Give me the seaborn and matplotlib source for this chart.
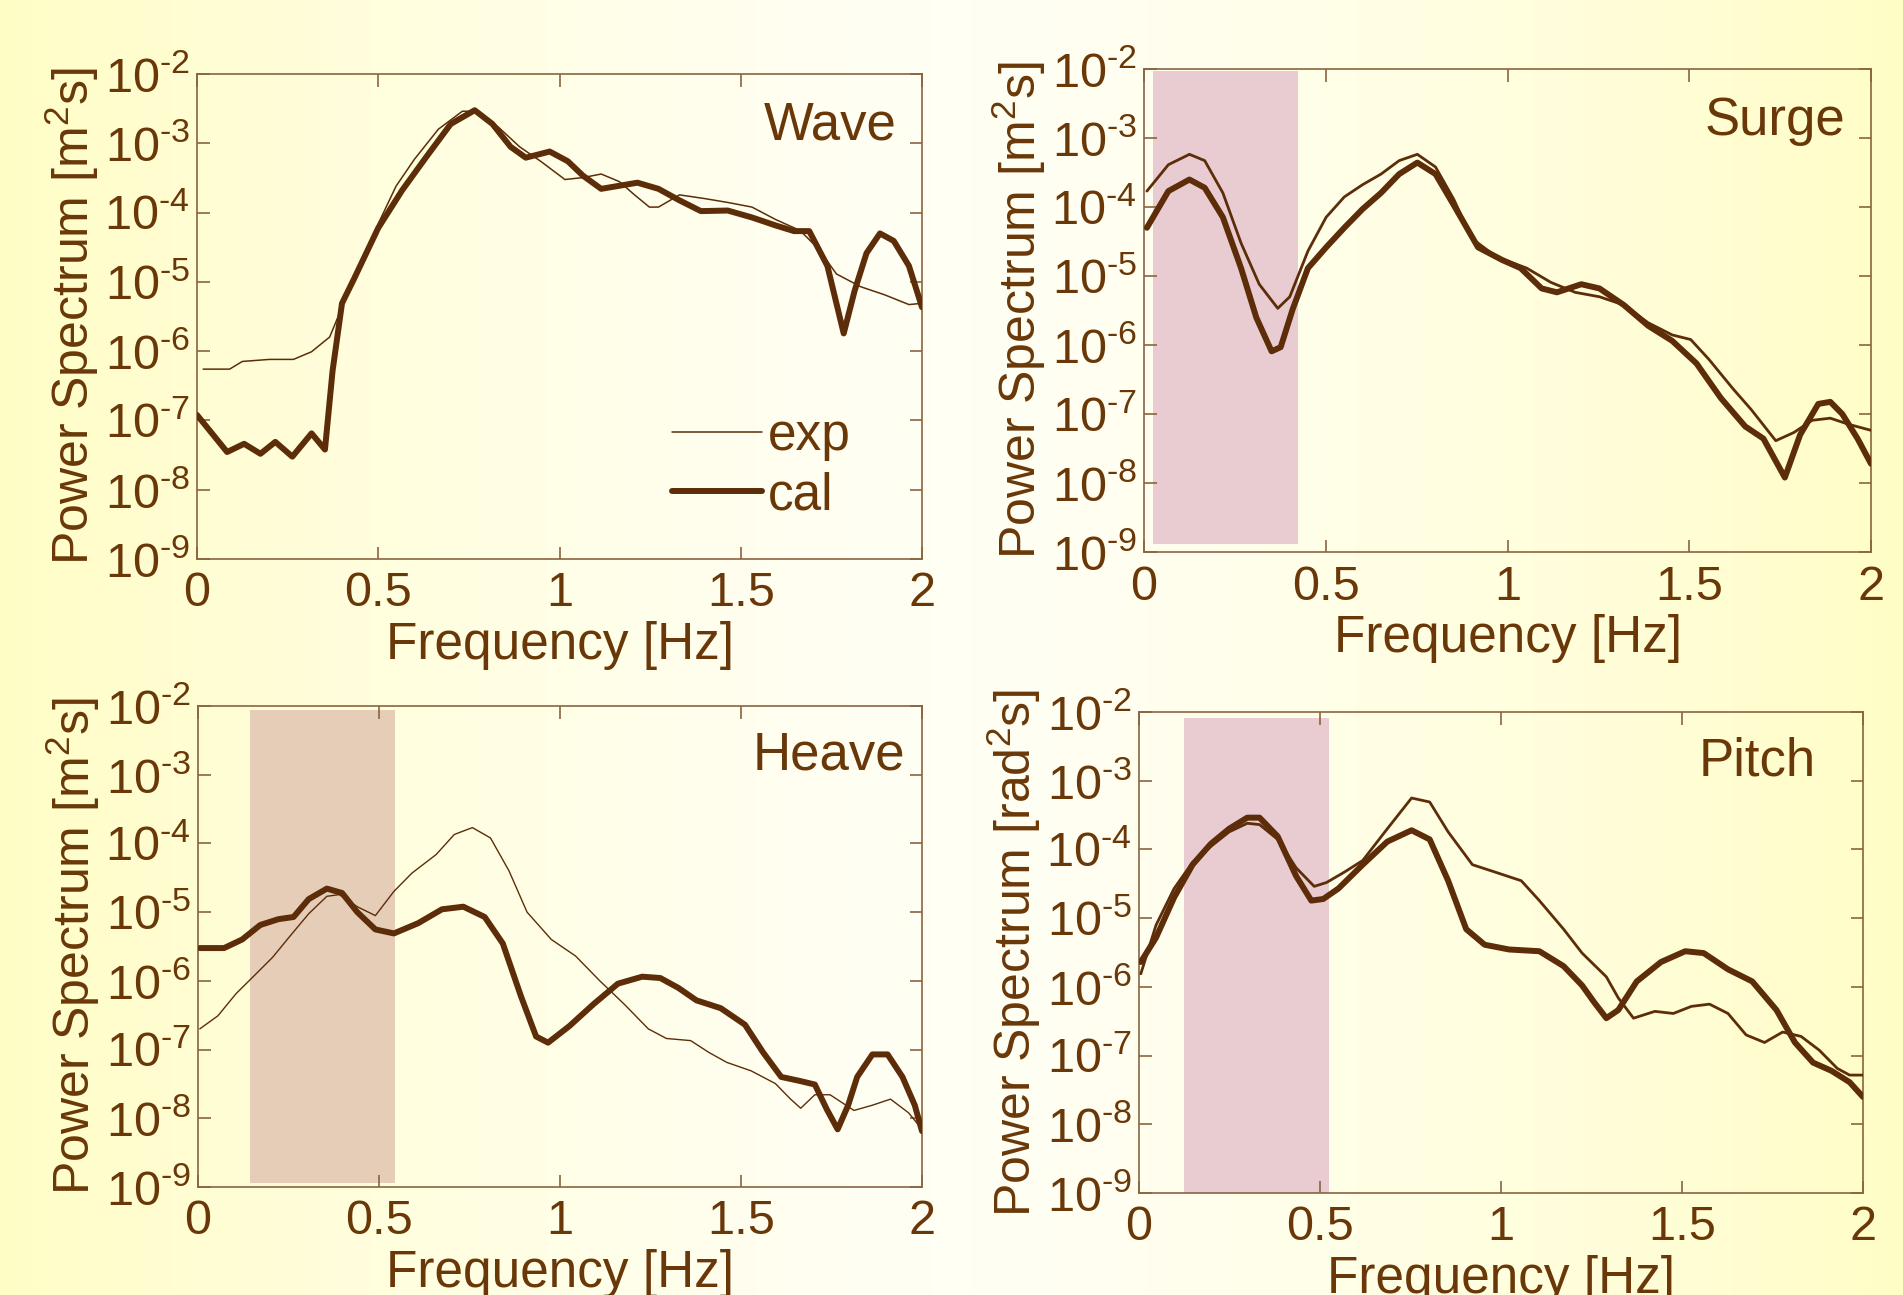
import numpy as np
import pandas as pd
import matplotlib
matplotlib.use("Agg")
import matplotlib.pyplot as plt
import seaborn as sns
from matplotlib.colors import LinearSegmentedColormap
from matplotlib.ticker import LogLocator, FixedLocator, FuncFormatter

# ---------------- data ----------------
wave_cal_f = [0.0, 0.083, 0.13, 0.175, 0.216, 0.263, 0.316, 0.353, 0.374, 0.40, 0.433, 0.5, 0.566, 0.632, 0.7, 0.766,
              0.815, 0.865, 0.907, 0.973, 1.023, 1.065, 1.115, 1.215, 1.273, 1.331, 1.39, 1.464, 1.531, 1.597, 1.647,
              1.689, 1.739, 1.784, 1.814, 1.847, 1.884, 1.922, 1.964, 2.0]
wave_cal_p = [1.2e-7, 3.5e-8, 4.6e-8, 3.3e-8, 4.9e-8, 3.0e-8, 6.5e-8, 3.8e-8, 5.2e-7, 4.9e-6, 1.1e-5, 6.0e-5, 2.1e-4,
              6.3e-4, 1.9e-3, 3.0e-3, 1.9e-3, 8.9e-4, 6.2e-4, 7.6e-4, 5.5e-4, 3.4e-4, 2.2e-4, 2.7e-4, 2.2e-4, 1.5e-4,
              1.05e-4, 1.07e-4, 8.5e-5, 6.5e-5, 5.4e-5, 5.4e-5, 1.7e-5, 1.8e-6, 7.4e-6, 2.6e-5, 5.0e-5, 3.9e-5,
              1.7e-5, 4.3e-6]
wave_exp_f = [0.017, 0.09, 0.125, 0.2, 0.266, 0.316, 0.366, 0.4, 0.433, 0.5, 0.549, 0.6, 0.666, 0.732, 0.774, 0.832,
              0.89, 0.948, 1.015, 1.065, 1.115, 1.165, 1.207, 1.248, 1.273, 1.331, 1.398, 1.464, 1.531, 1.597, 1.664,
              1.714, 1.764, 1.831, 1.897, 1.964, 2.0]
wave_exp_p = [5.5e-7, 5.5e-7, 7.1e-7, 7.6e-7, 7.6e-7, 9.8e-7, 1.6e-6, 4.3e-6, 1.1e-5, 6.9e-5, 2.4e-4, 5.9e-4, 1.6e-3,
              2.9e-3, 2.9e-3, 1.7e-3, 8.9e-4, 5.5e-4, 3.0e-4, 3.2e-4, 3.6e-4, 2.8e-4, 1.8e-4, 1.2e-4, 1.2e-4, 1.8e-4,
              1.6e-4, 1.4e-4, 1.2e-4, 7.9e-5, 5.5e-5, 3.0e-5, 1.3e-5, 8.5e-6, 6.5e-6, 4.7e-6, 4.9e-6]

surge_exp_f = [0.008, 0.067, 0.125, 0.167, 0.217, 0.267, 0.317, 0.368, 0.401, 0.451, 0.501, 0.551, 0.601, 0.652, 0.702,
               0.752, 0.802, 0.852, 0.902, 0.969, 1.053, 1.119, 1.186, 1.253, 1.32, 1.387, 1.453, 1.504, 1.554, 1.621,
               1.671, 1.738, 1.788, 1.838, 1.888, 1.938, 2.0]
surge_exp_p = [1.7e-4, 4.1e-4, 5.8e-4, 4.7e-4, 1.6e-4, 3.0e-5, 7.6e-6, 3.4e-6, 5.0e-6, 2.3e-5, 7.1e-5, 1.4e-4, 2.1e-4,
               3.0e-4, 4.7e-4, 5.8e-4, 3.8e-4, 1.3e-4, 3.5e-5, 1.9e-5, 1.3e-5, 8.1e-6, 5.8e-6, 5.0e-6, 3.8e-6, 2.1e-6,
               1.4e-6, 1.2e-6, 6.2e-7, 2.3e-7, 1.15e-7, 4.1e-8, 5.4e-8, 8.1e-8, 8.7e-8, 7.1e-8, 5.8e-8]
surge_cal_f = [0.008, 0.067, 0.125, 0.167, 0.217, 0.267, 0.309, 0.351, 0.376, 0.409, 0.451, 0.501, 0.551, 0.601, 0.652,
               0.702, 0.752, 0.802, 0.852, 0.919, 0.986, 1.036, 1.094, 1.136, 1.203, 1.253, 1.32, 1.387, 1.453, 1.52,
               1.587, 1.654, 1.704, 1.763, 1.805, 1.855, 1.888, 1.921, 1.963, 2.0]
surge_cal_p = [5.0e-5, 1.7e-4, 2.5e-4, 1.9e-4, 7.1e-5, 1.3e-5, 2.5e-6, 8.1e-7, 9.3e-7, 3.3e-6, 1.3e-5, 2.6e-5, 5.0e-5,
               9.3e-5, 1.6e-4, 3.0e-4, 4.4e-4, 3.0e-4, 1.07e-4, 2.6e-5, 1.7e-5, 1.3e-5, 6.6e-6, 5.8e-6, 7.6e-6, 6.6e-6,
               3.8e-6, 1.9e-6, 1.15e-6, 5.4e-7, 1.7e-7, 6.6e-8, 4.4e-8, 1.2e-8, 5.0e-8, 1.4e-7, 1.5e-7, 1.0e-7, 4.4e-8,
               1.9e-8]

heave_cal_f = [0.005, 0.072, 0.122, 0.172, 0.222, 0.264, 0.306, 0.356, 0.398, 0.44, 0.49, 0.541, 0.608, 0.674, 0.733,
               0.792, 0.842, 0.892, 0.934, 0.967, 1.026, 1.093, 1.16, 1.227, 1.277, 1.327, 1.377, 1.444, 1.511, 1.561,
               1.611, 1.662, 1.704, 1.737, 1.767, 1.796, 1.821, 1.863, 1.905, 1.946, 1.98, 2.0]
heave_cal_p = [3.0e-6, 3.0e-6, 4.0e-6, 6.5e-6, 7.9e-6, 8.5e-6, 1.55e-5, 2.2e-5, 1.9e-5, 1.0e-5, 5.6e-6, 4.9e-6, 6.9e-6,
               1.1e-5, 1.2e-5, 8.5e-6, 3.5e-6, 6.0e-7, 1.55e-7, 1.26e-7, 2.2e-7, 4.6e-7, 9.1e-7, 1.15e-6, 1.1e-6, 7.9e-7,
               5.2e-7, 4.0e-7, 2.3e-7, 9.1e-8, 4.0e-8, 3.5e-8, 3.1e-8, 1.35e-8, 6.9e-9, 1.55e-8, 4.0e-8, 8.5e-8, 8.5e-8,
               4.0e-8, 1.55e-8, 6.5e-9]
heave_exp_f = [0.005, 0.055, 0.105, 0.156, 0.206, 0.256, 0.306, 0.356, 0.39, 0.44, 0.49, 0.541, 0.591, 0.658, 0.708,
               0.758, 0.808, 0.859, 0.909, 0.976, 1.043, 1.11, 1.177, 1.244, 1.294, 1.361, 1.411, 1.461, 1.528, 1.595,
               1.637, 1.665, 1.704, 1.746, 1.812, 1.863, 1.913, 1.963, 2.0]
heave_exp_p = [2.0e-7, 3.1e-7, 6.5e-7, 1.2e-6, 2.2e-6, 4.6e-6, 9.5e-6, 1.7e-5, 1.8e-5, 1.2e-5, 8.9e-6, 2.0e-5, 3.7e-5,
               6.9e-5, 1.35e-4, 1.7e-4, 1.2e-4, 4.0e-5, 1.0e-5, 4.0e-6, 2.3e-6, 1.0e-6, 4.6e-7, 2.0e-7, 1.45e-7, 1.35e-7,
               9.1e-8, 6.5e-8, 4.9e-8, 3.2e-8, 1.9e-8, 1.4e-8, 2.2e-8, 2.2e-8, 1.3e-8, 1.55e-8, 1.9e-8, 1.2e-8, 6.9e-9]

pitch_cal_f = [0.005, 0.047, 0.097, 0.148, 0.198, 0.249, 0.299, 0.333, 0.383, 0.434, 0.476, 0.509, 0.551, 0.618, 0.686,
               0.753, 0.803, 0.854, 0.904, 0.955, 1.022, 1.106, 1.173, 1.224, 1.257, 1.291, 1.324, 1.375, 1.442, 1.509,
               1.56, 1.627, 1.694, 1.761, 1.812, 1.862, 1.913, 1.963, 2.0]
pitch_cal_p = [2.3e-6, 5.2e-6, 2.0e-5, 6.0e-5, 1.2e-4, 2.0e-4, 2.9e-4, 2.9e-4, 1.55e-4, 4.1e-5, 1.8e-5, 1.9e-5, 2.7e-5,
               6.0e-5, 1.3e-4, 1.9e-4, 1.4e-4, 3.5e-5, 6.9e-6, 4.1e-6, 3.5e-6, 3.3e-6, 2.0e-6, 1.05e-6, 6.0e-7, 3.5e-7,
               4.6e-7, 1.2e-6, 2.3e-6, 3.3e-6, 3.1e-6, 1.8e-6, 1.2e-6, 4.6e-7, 1.55e-7, 7.9e-8, 6.0e-8, 4.1e-8, 2.5e-8]
pitch_exp_f = [0.005, 0.047, 0.097, 0.148, 0.198, 0.249, 0.299, 0.333, 0.383, 0.434, 0.484, 0.518, 0.568, 0.618, 0.686,
               0.753, 0.803, 0.854, 0.921, 0.988, 1.056, 1.106, 1.173, 1.224, 1.291, 1.324, 1.366, 1.425, 1.476, 1.526,
               1.576, 1.627, 1.677, 1.728, 1.778, 1.829, 1.879, 1.929, 1.963, 2.0]
pitch_exp_p = [1.55e-6, 7.9e-6, 2.7e-5, 6.5e-5, 1.1e-4, 1.8e-4, 2.4e-4, 2.3e-4, 1.4e-4, 5.4e-5, 2.9e-5, 3.3e-5, 4.7e-5,
               6.9e-5, 2.0e-4, 5.6e-4, 4.9e-4, 1.8e-4, 6.0e-5, 4.6e-5, 3.5e-5, 1.8e-5, 6.9e-6, 3.1e-6, 1.4e-6, 6.9e-7,
               3.5e-7, 4.4e-7, 4.1e-7, 5.2e-7, 5.6e-7, 4.1e-7, 2.0e-7, 1.55e-7, 2.2e-7, 1.9e-7, 1.2e-7, 6.5e-8, 5.2e-8,
               5.2e-8]

panel_names = ["Wave", "Surge", "Heave", "Pitch"]
ylabels = ["Power Spectrum [m$^2$s]", "Power Spectrum [m$^2$s]",
           "Power Spectrum [m$^2$s]", "Power Spectrum [rad$^2$s]"]
xlabel = "Frequency [Hz]"
xticks = [0, 0.5, 1, 1.5, 2]
xticklabels = ["0", "0.5", "1", "1.5", "2"]
band_f = [None, (0.025, 0.423), (0.144, 0.544), (0.124, 0.524)]
band_p = [None, (1.3e-9, 9.3e-3), (1.15e-9, 8.7e-3), (1.0e-9, 8.2e-3)]
legend_labels = ["exp", "cal"]

# ---------------- style ----------------
sns.set_theme(style="ticks")
TXT = "#6A3808"
LINE = "#5C2D08"
SPINE = "#8A6440"
plt.rcParams["font.family"] = ["Liberation Sans", "DejaVu Sans"]
plt.rcParams["mathtext.fontset"] = "custom"
plt.rcParams["mathtext.rm"] = "Liberation Sans"
plt.rcParams["mathtext.it"] = "Liberation Sans"
plt.rcParams["mathtext.default"] = "regular"
plt.rcParams["axes.unicode_minus"] = False

fig = plt.figure(figsize=(19.03, 12.95), dpi=100)

# background gradient
bg = fig.add_axes([0, 0, 1, 1], zorder=-10)
xg = np.linspace(0, 1, 400)
prof = np.clip(np.abs(xg - 0.5) / 0.5, 0, 1) ** 1.4
cmap = LinearSegmentedColormap.from_list("bg", ["#FFFFF4", "#FFFDC6"])
bg.imshow(prof[None, :], aspect="auto", cmap=cmap, vmin=0, vmax=1, extent=[0, 1, 0, 1])
bg.set_axis_off()

positions = [
    [197 / 1903, 1 - 559 / 1295, 725 / 1903, 485 / 1295],
    [1144 / 1903, 1 - 552 / 1295, 727 / 1903, 483 / 1295],
    [198 / 1903, 1 - 1187 / 1295, 724 / 1903, 481 / 1295],
    [1139 / 1903, 1 - 1193 / 1295, 724 / 1903, 481 / 1295],
]
series = [
    (wave_exp_f, wave_exp_p, wave_cal_f, wave_cal_p, 1.1),
    (surge_exp_f, surge_exp_p, surge_cal_f, surge_cal_p, 2.0),
    (heave_exp_f, heave_exp_p, heave_cal_f, heave_cal_p, 1.0),
    (pitch_exp_f, pitch_exp_p, pitch_cal_f, pitch_cal_p, 2.0),
]
title_pos = [(0.965, 0.893), (0.965, 0.892), (0.977, 0.897), (0.935, 0.897)]


def pow_fmt(v, pos):
    e = int(round(np.log10(v)))
    return "$10^{\u2010%d}$" % (-e) if e < 0 else "$10^{%d}$" % e


for i in range(4):
    ax = fig.add_axes(positions[i])
    ax.set_facecolor("none")
    ef, ep, cf, cp, thin = series[i]
    if band_f[i] is not None:
        ax.fill_between(list(band_f[i]), band_p[i][0], band_p[i][1],
                        color="#E8CCD2" if i != 2 else "#E6CDB8", lw=0, zorder=0)
    df_e = pd.DataFrame({"f": ef, "p": ep})
    df_c = pd.DataFrame({"f": cf, "p": cp})
    sns.lineplot(data=df_e, x="f", y="p", ax=ax, color=LINE, lw=thin, label=legend_labels[0], zorder=3)
    sns.lineplot(data=df_c, x="f", y="p", ax=ax, color=LINE, lw=4.3, label=legend_labels[1], zorder=4)
    ax.set_yscale("log")
    ax.set_xlim(0, 2)
    ax.set_ylim(1e-9, 1e-2)
    ax.yaxis.set_major_locator(LogLocator(base=10, numticks=20))
    ax.yaxis.set_minor_locator(FixedLocator([]))
    ax.yaxis.set_major_formatter(FuncFormatter(pow_fmt))
    ax.set_xticks(xticks)
    ax.set_xticklabels(xticklabels)
    for s in ax.spines.values():
        s.set_visible(True)
        s.set_color(SPINE)
        s.set_linewidth(1.2)
    ax.tick_params(axis="both", which="major", direction="in", length=9, width=1.2,
                   color=SPINE, labelcolor=TXT, labelsize=35, top=True, right=True)
    ax.tick_params(axis="x", pad=9)
    ax.tick_params(axis="y", pad=5)
    ax.set_xlabel(xlabel, fontsize=37, color=TXT)
    ax.set_ylabel(ylabels[i], fontsize=36, color=TXT)
    ax.xaxis.set_label_coords(0.5, -0.128)
    ax.yaxis.set_label_coords(-0.132, 0.5)
    ax.text(title_pos[i][0], title_pos[i][1], panel_names[i], transform=ax.transAxes,
            ha="right", va="center", fontsize=38, color=TXT)
    if i == 0:
        leg = ax.legend(loc="lower left", bbox_to_anchor=(0.655, 0.08), frameon=False,
                        handlelength=1.75, handletextpad=0.12, labelspacing=0.2,
                        borderpad=0, borderaxespad=0, fontsize=37)
        for t in leg.get_texts():
            t.set_color(TXT)
        for h, w in zip(leg.get_lines(), [1.1, 4.3]):
            h.set_linewidth(w)
    else:
        ax.get_legend().remove()

fig.savefig("out.png", dpi=100)
